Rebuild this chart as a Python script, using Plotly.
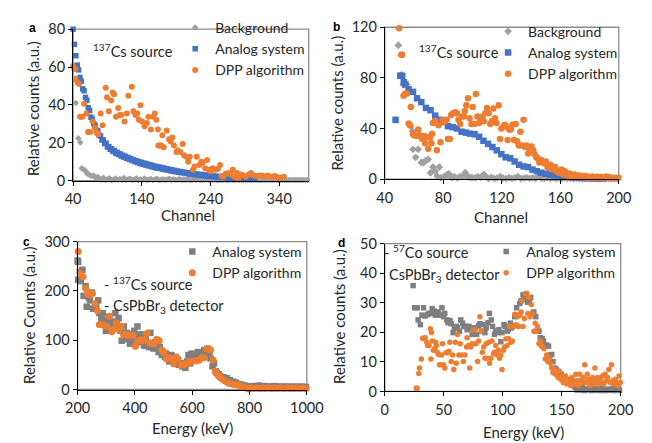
import plotly.graph_objects as go

# ---------------- data ----------------
# panel a (channel spectra, 137Cs)
a_bg_head_x = [44, 47.6, 50.4, 52.6, 55.8, 58.6, 60.4, 63.2, 66.4, 69.7, 72.5, 75.7]
a_bg_head_y = [41, 22.4, 20.2, 6.6, 5.8, 4.9, 3.7, 3.2, 2.4, 2.7, 1.5, 2]
a_bg_tail_y = [1.2,0.5,1.5,0.4,0.8,1.3,0.3,0.6,1.1,0.4, 0.9,0.5,1.4,0.3,0.7,1.0,0.4,0.6,1.2,0.3,
               0.8,0.5,1.1,0.4,0.6,0.9,0.3,0.7,1.0,0.4, 0.5,0.8,0.3,0.6,1.0,0.4,0.7,0.3,0.5,0.9,
               0.4,0.6,0.3,0.8,0.5,0.4,0.7,0.3,0.6,0.4, 0.5,0.3,0.7,0.4,0.5,0.3,0.6,0.4,0.3,0.5,
               0.4,0.6,0.3,0.4,0.5,0.3,0.4,0.6,0.3,0.4, 0.3,0.5,0.4,0.3,0.4,0.3,0.5,0.3,0.4,0.3,
               0.4,0.3,0.5,0.3,0.4,0.3,0.3,0.4,0.3,0.3, 0.4,0.3,0.3,0.4,0.3,0.3,0.3,0.4,0.3,0.3,
               0.3,0.3]
a_analog_y = [80,72,66,61,58.5,54.5,52.5,48.5,47.5,44,
              42.5,38.5,37,33.5,32.5,30,29.2,26.7,26.3,24,
              23.5,21.5,21.5,19.5,19.8,17.8,18,16.5,16.9,15.4,
              15.9,14.5,15,13.8,14.2,13,13.5,12.4,12.9,11.8,
              12.3,11.2,11.7,10.6,11.1,10,10.5,9.5,10,9,
              9.6,8.6,9.2,8.2,8.8,7.8,8.4,7.4,8,7,
              7.6,6.6,7.3,6.5,7,6.1,6.7,5.8,6.3,5.5,
              6,5.2,5.7,4.9,5.4,4.7,5.1,4.4,4.8,4.2,
              4.6,4,4.3,3.7,4.1,3.5,3.9,3.3,3.7,3.1,
              3.5,3,3.3,2.8,3.2,2.7,3,2.5,2.8,2.3,
              2.6,2.2,2.5,2,2.3,1.9,2.2,1.8,2,1.7,
              1.9,1.6,1.8,1.5,1.7,1.4,1.6,1.3,1.5,1.2,
              1.4,1.1,1.3,1,1.2,0.9,1.1,0.8,1,0.8,
              0.9,0.7,0.8]
a_dpp_x = [40,41.7,43,43.7,46.5,48.8,50.2,53.4,56,59.4,61.7,64.9,68.6,71.8,74.6,76.4,80.1,82.9,87.5,89.3,
           92,95.4,97.7,99.5,102.3,105.6,107.9,110.2,114.8,118.1,120.4,125.5,127.8,131,133.4,135.7,138,140.3,144,147.3,
           149.6,153.3,156.5,158.8,161.1,163.5,164,165.8,168,170,171.8,176.4,179.7,182,184.3,186.7,190.4,192.2,195.9,199.6,
           201.5,204.3,207.5,209.8,214.5,216.8,220,223.8,226.5,228.4,232.1,234.9,237.7,240,243.3,247,250.7,254,256.3,258.6,
           261.9,265.6,269.3,272.5,274.9,278.6,280.4,284.1,287.8,291.1,295.7,299,302.7,307.3,311,315.6,318.9,323.5,328.2,332.8,
           336,338.8,342,346.7]
a_dpp_y = [60.5,59.3,59,53.7,51.7,51,33.8,33.8,40.6,35.5,25.7,25.7,31.3,27.9,25.3,24.5,35.5,29.2,49.1,44,
           36.7,42.3,46.6,45.7,33.8,38.4,34.7,34.7,31.3,35.5,44.9,49.6,36.7,34.7,35.5,32.1,39.8,31.3,28.7,30.4,
           33.8,27,33.8,35.5,32.1,27,18.5,18.5,18.5,24,17.7,26.5,21.9,20.7,22.8,18.5,15.1,16,15.1,19.4,
           13.4,12.6,10,12.6,5.8,7.5,12.6,8.3,10,9.5,6.6,10.9,5.8,4.9,6.6,5.8,6.1,8.3,2.4,2,
           3.7,4.1,3.2,5.8,2,4.1,0.7,3.2,2.7,2,3.2,4.1,2.7,2.4,2.7,2.7,2,2.7,2,2.4,
           2,1,1.5,2]

# panel b (channel spectra, 137Cs)
b_bg_x = [49.3,51.5,52.8,55,57.8,58.9,59.3,61.1,62.8,65,66.5,68,69.7,71.3,73,74.5,75.8,77.3,78.4,81,
          82.8,83.9,86,87.5,89.7,91.5,93.2,95,96.2,98,99.7,101.9,103.6,105.6,107.7,109.3,111]
b_bg_y = [105.8,82.4,74.8,74.8,41.9,38,23.6,17.3,23.6,13.2,13.2,14.7,15.7,5.1,9.6,6.3,2.5,9.6,1.3,2.5,
          3.6,4.1,1.3,2,1,2,2,5.1,2.5,1.5,1.3,1,2,1.5,3.8,2,0.5]
b_bg_tail_y = [1.5,0.5,1,2,0.8,0.5,1.2,0.6,1,2, 0.5,0.8,1.3,0.6,1,0.5,2.5,0.8,0.5,1.1,
               0.6,1,0.5,0.8,0.4,1,0.5,0.7,0.4,0.8, 0.5,0.6,0.4,0.7,0.5,0.4,0.6,0.4,0.5,0.4,
               0.5,0.4,0.4,0.5]
b_analog_x = [47.4,50.6,51.9,53,54.1,56.3,59.3,62.1,65,68.2,71.3,74.5,77.3,80.6,83.2,86.5,89.3,92.5,95.4,98.4,
              101.4,104.5,107.5,110.6,113.6,116.6,119.7,122.7,125.8,128.8,131.8,134.9,137.9,141,144,147,150.1,153.1,156.2,159.2,
              162.2,165.3,168.3,171.3,174.4,177.4,180.5,183.5,186.6,189.6]
b_analog_y = [46.9,81.7,81.7,76.6,74.8,71,69,63.9,60.9,56.3,54.5,50.2,46.9,45.2,41.9,41.1,40.1,37.5,36.8,36,
              35.5,33.5,30.4,27.9,25.4,22.8,19.8,17.3,16.5,14,11.4,10.1,9.6,7.6,6.3,5.1,4.3,3.6,3,2.5,
              2,2,1.5,1.3,1,0.8,0.7,0.6,0.5,0.5]
b_dpp_x = [49.8,51.3,51.9,52.8,54.1,55.2,56.3,57.2,57.8,59.3,60,61.5,62.8,63.7,65,65.8,66.5,67.6,68.7,69.7,
           70.8,71.9,72.3,73,74.5,75.6,76.7,78,79.5,80.6,82.3,83.2,84.5,85.4,86.7,88.2,89.3,90.4,91.5,92.5,
           94.1,94.7,95.8,96.9,98,99.3,100.1,101.2,102.3,103.4,104.5,105.6,106.7,107.7,108.8,109.9,111,112.1,113.2,114.3,
           115.3,116.4,117.9,118.8,119.7,120.8,121.9,122.9,124,125.1,126.2,127.3,128.4,129.5,130.5,131.6,132.7,133.8,134.9,136,
           137,138.1,139.2,140.3,141.4,142.5,143.6,144.6,145.7,146.8,147.9,149,150.1,151.2,152.2,153.3,154.4,155.5,156.6,157.7,
           158.8,159.8,160.9,162,163.1,164.2,165.3,166.4,167.5,168.5,169.6,170.7,171.8,172.9,174,175]
b_dpp_y = [119.2,98.2,98.2,66,67.7,67.7,43.9,42.6,57.1,35.5,34.8,34.2,39.3,34.8,33,31.7,34.2,28.4,33.5,24.1,
           33,28.4,36,44.4,46.2,22.8,42.6,29.2,46.9,45.2,46.9,31.7,31.7,50.7,52,52.8,52,46.9,43.6,49.5,
           49.5,53.8,58.4,63.9,48.2,43.6,57.1,43.6,67.2,49.5,44.4,46.9,49.5,45.7,52,56.3,52,43.6,45.7,55.8,
           48.2,44.4,58.4,31.7,40.1,41.1,43.1,41.9,31,39.3,39.3,43.1,31,43.6,29.9,26.6,37.5,26.6,46.9,25.4,
           26.6,20.3,22.8,25.9,22.8,19.8,17.3,16.5,13.2,15.2,14,12.7,14,9.6,8.9,11.4,7.6,8.9,9.6,6.3,
           5.1,6.3,7.6,3.8,6.3,3.8,2.5,4.6,3,2,3.8,2.5,2,3,1.5,2.5]
b_dpp_tail_y = [1.5,2.5,1,2,1.2,2.2,0.8,1.5,2,1,1.8,0.8,1.2,2.2,1,1.5,0.8,1.2,1,0.8,1.2]

# panel c (energy spectra, 137Cs, CsPbBr3)
c_analog_x = [200,202,208,202,211,217,221,228,232,239,243,250,254,261,265,272,276,283,288,294,
              299,304,310,316,321,327,332,338,343,350,354,361,365,372,376,383,387,394,398,405,
              409,416,420,427,432,438,443,449,454,460,465,471,476,483,487,494,498,505,509,516,
              520,527,531,538,542,549,553,560,565,571,576,582,587,593,598,604,609,615,620,627,
              631,638,642,649,653,660,664,671,676,682,686,693,697,704,709,715,720,726,731,737,
              742,748,753,759,764,771,775,782,786,793,797]
c_analog_y = [262,259,239,223,220,243,190,210,168,187,181,197,164,171,171,181,155,145,155,141,
              119,135,148,132,138,125,155,132,145,119,99,128,109,115,102,93,112,101,119,106,
              128,96,112,102,89,106,93,86,115,89,83,96,86,76,86,70,76,66,73,63,
              57,70,60,53,66,57,50,53,47,53,44,57,70,53,73,60,70,63,76,66,
              73,66,80,71,83,76,63,47,53,37,34,31,27,24,25,21,23,18,19,14,
              16,12,14,11,10,10,8,8,7,6,6]
c_analog_tail_y = [6,5,7,4,6,5,8,5,6,4, 7,5,6,5,4,6,5,7,4,5, 6,5,4,6,5,5,4,6,5,4, 5,6,4,5,5,4,6,5,4,5]
c_dpp_x = [202,210,219,228,235,243,252,261,269,276,285,294,302,311,319,327,335,344,352,361,
           368,376,385,393,402,410,418,427,435,443,452,459,468,476,485,494,501,510,518,527,
           535,543,551,560,568,576,584,592,601,609,618,625,634,642,651,659,664,673,681,690,
           697,706,714,723,731,740,747,756,764,773,781,789,797]
c_dpp_y = [280,236,229,205,194,192,195,174,160,132,132,130,128,148,117,123,135,122,128,110,
           112,110,110,110,88,99,101,99,101,114,95,93,93,102,99,80,75,62,65,63,
           53,66,62,49,50,53,52,57,58,58,59,60,65,65,82,82,80,60,37,29,
           25,21,18,14,12,11,10,10,8,6,5,3,1]
c_dpp_tail_y = [3,2,3,2.5,2,3,2,3,2.5,2,3,2,2.5,3,2,2.5,3,2,2.5,2,3,2,2.5,3,2]

# panel d (energy spectra, 57Co, CsPbBr3)
d_analog_x = [24,25.3,27.5,28.3,30.2,31.5,32.9,34.2,36.4,37.5,39.1,40.2,41.8,42.9,44.5,45.5,47.2,48.5,49.9,50.9,
              52.6,53.6,55.2,56.3,57.9,59,60.6,61.7,63.3,64.4,66,67.1,68.7,69.8,71.4,72.5,74.1,75.2,76.8,77.9,
              79.5,80.6,82.2,83.3,84.9,86,87.6,88.7,90.3,91.4,93,94.1,95.7,96.8,98.4,99.4,101.1,102.1,103.8,104.8,
              106.5,107.5,109.2,110.2,111.8,112.9,114.5,115.6,117.2,118.3,119.9,121,122.6,123.7,125.3,126.4,128,129.1,130.7,131.8,
              133.4,134.5,136.1,137.2,138.8,139.9,141.5,142.6,144.2,145.3,146.9,148,149.6,150.7,152.3,153.4,155,156,157.7,158.7,
              160.4,161.4,163]
d_analog_y = [35.8,28.3,28.3,24.2,22.6,25.8,28.3,25.5,26,26.4,26.4,28,27.2,25.8,26.9,26.4,25.8,28.3,25.3,26.4,
              24.2,23.3,24,22.9,19.9,21.5,22,21.5,20.4,24.2,23.1,22,22,20.9,22,21.5,19.3,20.4,21.5,19.3,
              22.2,22.9,20.4,22.6,19.9,21.5,23.3,26.4,24.2,22,19.3,20.4,19.9,20.9,16.8,19.9,22.6,22,20.4,20.9,
              23.1,21.5,22.2,25.3,28.3,25.8,29.8,30.7,32.7,31.2,31.8,30.2,30.7,31.8,26.4,26.9,25.3,20.4,20.4,18.2,
              17.9,17.1,15.5,15.7,15.3,12.3,12.5,10.1,7.9,7.4,6.8,6.3,5.8,4.7,4.7,3.6,3.6,3,2.5,3,
              2,1.4,0.5]
d_analog_tail_y = [1,0.5,1.5,0.3,0.8,0.5,1.2,0.3,0.6,1,0.4,0.8,0.3,1.2,0.5,0.3,0.8,0.4,0.6,1,0.3,0.5,0.8,0.4]
d_dpp_x = [26.7,27.5,28.8,29.4,31,32.1,32.9,34.2,35.6,36.4,37.5,38.6,39.1,39.6,40.4,41.2,42.3,43.1,43.7,44.5,
           45.5,46.4,47.2,48.2,49,49.9,50.9,52,53.1,54.4,55.2,56.3,57.4,58.5,59.8,60.6,61.7,62.8,63.9,65.2,
           66.6,67.9,69.3,69.8,70.9,72,73,74.1,75.2,76.3,77.3,78.7,79.5,80.6,81.7,82.7,83.8,84.9,86,86.8,
           88.1,88.9,90,90.8,92.2,93,94.1,95.1,96.2,97.3,98.4,99.4,100.5,101.6,102.7,103.8,104.8,105.9,107,108.1,
           109.2,110.2,111.3,112.4,113.5,114.5,115.6,116.4,117.2,118.3,119.1,120.5,121.3,122.1,123.2,124.2,125.3,126.4,127.5,128.5,
           129.6,130.7,131.8,132.9,133.9,135,136.1,137.2,138.3,139.3,140.4,141.5,142.6,143.6,144.7,145.8,146.9,148,149,150.1,
           151.2,152.3,153.3,154.4,155.5,156.6,157.7,158.7,159.8,160.9,162,163,164.1,165.2,166.3,167.4,168.4,169.5,170.6,171.7,
           172.7,173.8,174.9,176,177.1,178.1,179.2,180.3,181.4,182.5,183.5,184.6,185.7,186.8,187.9,188.9,190,191.1,192.2,193.2,
           194.3,195.4,196.5,197.6,198.6,199.7]
d_dpp_y = [1.1,1.1,6.1,7.9,11,18,18,18.2,16.6,15.5,15.5,21.2,11,19.9,17.1,13.9,14.4,16.6,15.5,13.3,
           12.5,9,9,12.3,16.1,9,7.9,13.1,13.1,13.6,16.6,10.1,12.3,7.4,16.6,9.5,19.3,12.3,16.1,12.3,
           10.1,12.3,15,18.2,15.5,7.9,15,16.1,20.9,20.9,16.1,10.1,17.1,25.3,20.4,13.3,15,11.2,16.1,11.2,
           16.6,9.5,11.2,17.1,12.8,13.3,15.5,12.3,13.9,11.2,12.3,7.4,13.9,15,17.7,15.5,17.9,22,16.6,17.1,
           22,26.1,22.6,25.3,22,25.8,26.9,30.7,22,24.7,33.1,33.1,26.4,31.8,25.3,29.4,26.4,20.4,23.1,20.4,
           22,16.1,17.1,15.3,15,14.4,11,12.3,10.1,11.2,9.5,7.9,6.3,7.4,5.8,6.8,4.7,6.8,4.1,5.2,
           3,4.1,5.2,2.5,3,4.1,2,4.7,3.6,2.5,5.8,3.6,2,5.8,3.8,3,4.7,9,3,5.8,
           4.1,2,3.6,4.7,2.5,7.9,3.6,4.7,2.5,4.1,3,5.2,2.5,5.8,3.6,4.7,7.4,3,9,3.6,
           2.5,4.1,3,2,5.2,3]

# tick labels
a_xticks = [40, 140, 240, 340]; a_yticks = [0, 20, 40, 60, 80]
b_xticks = [40, 80, 120, 160, 200]; b_yticks = [0, 40, 80, 120]
c_xticks = [200, 400, 600, 800, 1000]; c_yticks = [0, 100, 200, 300]
d_xticks = [0, 50, 100, 150, 200]; d_yticks = [0, 10, 20, 30, 40, 50]

# regular-channel x positions for dense series
a_bg_x = a_bg_head_x + [78 + 3 * i for i in range(len(a_bg_tail_y))]
a_bg_y = a_bg_head_y + a_bg_tail_y
a_analog_x = [40 + 2 * i for i in range(len(a_analog_y))]
b_bg_x_all = b_bg_x + [113 + 2 * i for i in range(len(b_bg_tail_y))]
b_bg_y_all = b_bg_y + b_bg_tail_y
b_dpp_x_all = b_dpp_x + [176 + 1.19 * i for i in range(len(b_dpp_tail_y))]
b_dpp_y_all = b_dpp_y + b_dpp_tail_y
c_analog_x_all = c_analog_x + [802 + 5 * i for i in range(len(c_analog_tail_y))]
c_analog_y_all = c_analog_y + c_analog_tail_y
c_dpp_x_all = c_dpp_x + [805 + 8 * i for i in range(len(c_dpp_tail_y))]
c_dpp_y_all = c_dpp_y + c_dpp_tail_y
d_analog_x_all = d_analog_x + [164.5 + 1.5 * i for i in range(len(d_analog_tail_y))]
d_analog_y_all = d_analog_y + d_analog_tail_y

# ---------------- styling ----------------
W, H = 652, 443
FONT = "Lato"
TXT = "#262626"
BLUE = "#4472C4"
ORANGE = "#ED7D31"
GRAY = "#7F7F7F"
BGGRAY = "#A0A0A0"
TICK_SIZE = 14.5
TITLE_SIZE = 15
LEG_SIZE = 14
NOTE_SIZE = 14.5


def fx(p):
    return p / W


def fy(p):
    return 1 - p / H


fig = go.Figure()


def sc(x, y, name, color, symbol, size, xa, ya, legend):
    fig.add_trace(go.Scatter(
        x=x, y=y, mode="markers", name=name, xaxis=xa, yaxis=ya, legend=legend,
        cliponaxis=False,
        marker=dict(color=color, symbol=symbol, size=size, line=dict(width=0))))


sc(a_bg_x, a_bg_y, "Background", BGGRAY, "diamond", 5, "x", "y", "legend")
sc(a_analog_x, a_analog_y, "Analog system", BLUE, "square", 5.5, "x", "y", "legend")
sc(a_dpp_x, a_dpp_y, "DPP algorithm", ORANGE, "circle", 6, "x", "y", "legend")

sc(b_bg_x_all, b_bg_y_all, "Background", BGGRAY, "diamond", 6, "x2", "y2", "legend2")
sc(b_analog_x, b_analog_y, "Analog system", BLUE, "square", 6.5, "x2", "y2", "legend2")
sc(b_dpp_x_all, b_dpp_y_all, "DPP algorithm", ORANGE, "circle", 6.5, "x2", "y2", "legend2")

sc(c_analog_x_all, c_analog_y_all, "Analog system", GRAY, "square", 6.5, "x3", "y3", "legend3")
sc(c_dpp_x_all, c_dpp_y_all, "DPP algorithm", ORANGE, "circle", 7, "x3", "y3", "legend3")

sc(d_analog_x_all, d_analog_y_all, "Analog system", GRAY, "square", 5.5, "x4", "y4", "legend4")
sc(d_dpp_x, d_dpp_y, "DPP algorithm", ORANGE, "circle", 5.5, "x4", "y4", "legend4")

# panel boxes in pixels (left, right, top, bottom)
boxes = {
    "": (63, 310, 21, 178.5),
    "2": (389.7, 635, 19, 177),
    "3": (67.7, 308, 242, 395.7),
    "4": (389.7, 637, 244, 397.7),
}
ranges = {
    "": ([40, 383], [0, 80], a_xticks, a_yticks),
    "2": ([40, 200], [0, 120], b_xticks, b_yticks),
    "3": ([200, 1000], [0, 300], c_xticks, c_yticks),
    "4": ([0, 200], [0, 50], d_xticks, d_yticks),
}

axis_common = dict(showgrid=False, zeroline=False, showline=True, linecolor="#000000",
                   linewidth=1, ticks="outside", ticklen=4, tickcolor="#000000",
                   tickfont=dict(family=FONT, size=TICK_SIZE, color=TXT), fixedrange=True)

layout = dict(width=W, height=H, margin=dict(l=0, r=0, t=0, b=0),
              plot_bgcolor="white", paper_bgcolor="white",
              font=dict(family=FONT, size=13, color=TXT))
shapes = []
for k, (l, r, t, b) in boxes.items():
    xr, yr, xt, yt = ranges[k]
    layout["xaxis" + k] = dict(axis_common, domain=[fx(l), fx(r)], range=xr,
                               tickvals=xt, anchor="y" + k, ticklabelstandoff=1)
    layout["yaxis" + k] = dict(axis_common, domain=[fy(b), fy(t)], range=yr,
                               tickvals=yt, anchor="x" + k)
    shapes.append(dict(type="rect", xref=("x" + k) + " domain", yref=("y" + k) + " domain",
                       x0=0, x1=1, y0=0, y1=1, layer="below",
                       line=dict(color="#8C8C8C", width=1.3)))
layout["shapes"] = shapes


def leg(text_x, top_y):
    return dict(x=fx(text_x - 43), y=fy(top_y), xanchor="left", yanchor="top",
                bgcolor="rgba(0,0,0,0)", borderwidth=0,
                font=dict(family=FONT, size=LEG_SIZE, color=TXT), tracegroupgap=0)


layout["legend"] = leg(213, 3)
layout["legend2"] = leg(541, 7)
layout["legend3"] = leg(210, 236)
layout["legend4"] = leg(539, 236)

ann = []


def text(x, y, s, size=NOTE_SIZE, anchor="left", bold=False, angle=0, yanchor="middle"):
    ann.append(dict(x=fx(x), y=fy(y), xref="paper", yref="paper", text=("<b>%s</b>" % s) if bold else s,
                    showarrow=False, xanchor=anchor, yanchor=yanchor, textangle=angle,
                    font=dict(family=FONT if not bold else "Liberation Sans", size=size,
                              color="#000000" if bold else TXT)))


# panel letters
text(20, 20, "a", size=12, anchor="center", bold=True)
text(339, 19, "b", size=12, anchor="center", bold=True)
text(14, 242, "c", size=12, anchor="center", bold=True)
text(344, 243, "d", size=12, anchor="center", bold=True)

# axis titles
text(21, 104, "Relative counts (a.u.)", size=TITLE_SIZE, anchor="center", angle=-90)
text(183, 214, "Channel", size=TITLE_SIZE, anchor="center")
text(340, 98, "Relative counts (a.u.)", size=TITLE_SIZE, anchor="center", angle=-90)
text(512, 216, "Channel", size=TITLE_SIZE, anchor="center")
text(17, 318, "Relative Counts (a.u.)", size=TITLE_SIZE, anchor="center", angle=-90)
text(188, 436, "Energy (keV)", size=TITLE_SIZE, anchor="center")
text(341, 320, "Relative counts (a.u.)", size=TITLE_SIZE, anchor="center", angle=-90)
text(535, 440, "Energy (keV)", size=TITLE_SIZE, anchor="center")

# in-plot notes
text(82, 43, "<sup>137</sup>Cs source")
text(423, 44, "<sup>137</sup>Cs source")
text(93, 285, "- <sup>137</sup>Cs source")
text(93, 309, "- CsPbBr<sub>3</sub> detector")
text(387, 252, "- <sup>57</sup>Co source")
text(392, 277, "CsPbBr<sub>3</sub> detector")

layout["annotations"] = ann
fig.update_layout(**layout)
fig.write_html("out.html")
